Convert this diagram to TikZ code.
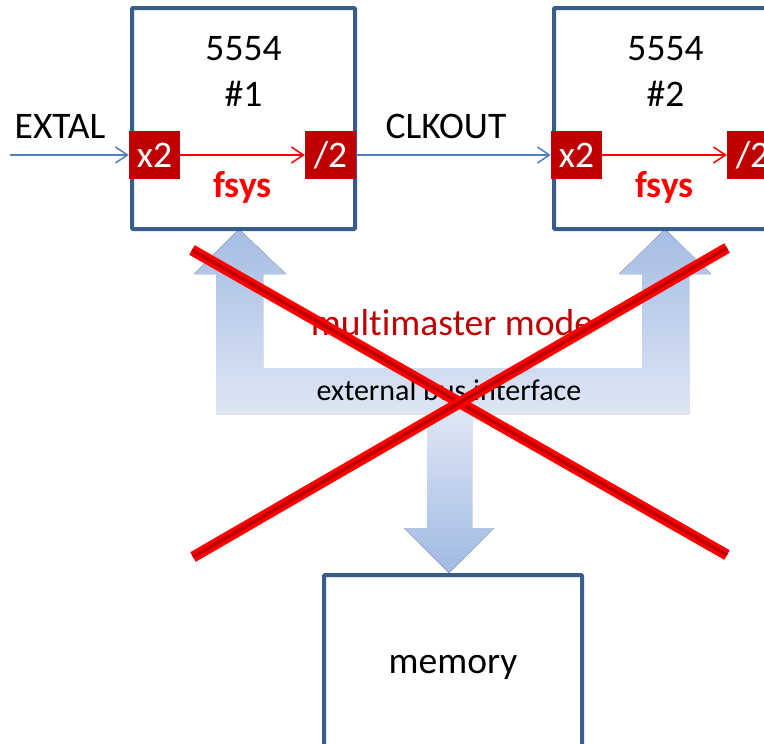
\documentclass[tikz,border=0pt]{standalone}
\usepackage{fontspec}
\setmainfont{Carlito}[Ligatures=NoCommon]
\usetikzlibrary{positioning, arrows.meta}

\definecolor{chipblue}{RGB}{56,93,138}
\definecolor{sigblue}{RGB}{79,129,189}
\definecolor{darkred}{RGB}{192,0,0}
\definecolor{bustop}{RGB}{165,188,228}
\definecolor{buslow}{RGB}{222,230,244}
\definecolor{busdown}{RGB}{160,185,228}

\newcommand{\chipfont}{\fontsize{37.5}{40}\selectfont}
\newcommand{\busfont}{\fontsize{30}{32}\selectfont}

\begin{document}
\begin{tikzpicture}[x=1pt, y=-1pt,
    chip/.style={rectangle,
        draw=chipblue, % Frame colour.
        fill=white,
        line width=4pt,
        rounded corners=1pt,
        minimum width=223pt,
        minimum height=221pt},
    pll/.style={rectangle,
        fill=darkred, % Box fill colour.
        text=white,
        inner sep=0pt,
        minimum width=51pt,
        minimum height=48pt,
        font=\chipfont},
    lbl/.style={inner sep=0pt, anchor=base, font=\chipfont},
    fsys/.style={midway, anchor=base, yshift=-42pt, inner sep=0pt,
        text=red, font=\chipfont\bfseries},
    sig/.style={draw=sigblue, line width=1.5pt,
        -{Straight Barb[length=12pt, width=16pt]}},
    clk/.style={draw=red, line width=1.5pt,
        -{Straight Barb[length=12pt, width=16pt]}},
    cross/.style={draw=red, double=darkred, double distance=3.5pt,
        line width=3.75pt}]

        \clip (0,0) rectangle (764,744);

        % Bus arrows.
        \fill[top color=bustop, bottom color=buslow]
            (239,229) -- (286,274) -- (263,274) -- (263,368) -- (642,368)
            -- (642,274) -- (619,274) -- (665,229) -- (711,274) -- (689,274)
            -- (689,414) -- (216,414) -- (216,274) -- (194,274) -- cycle;
        \fill[top color=buslow, bottom color=busdown]
            (427,414) -- (472,414) -- (472,528) -- (494,528) -- (449,573)
            -- (404,528) -- (427,528) -- cycle;

        % Nodes.
        \node[chip] (chipA) at (243.5,118.5) {};
        \node[chip, right=195pt of chipA] (chipB) {};
        \node[chip, minimum width=258pt] (mem) at (453,685.5) {};

        \foreach \c/\n in {chipA/1, chipB/2} {
            \node[lbl] (num\n) at ([yshift=-54pt]\c.north) {5554};
            \node[lbl] (id\n) at ([yshift=-100pt]\c.north) {\#\n};
            \node[pll] (mul\n) at ([xshift=24.5pt, yshift=-36.5pt]\c.west) {x2};
            \node[pll] (div\n) at ([xshift=-26.5pt, yshift=-36.5pt]\c.east) {/2};
            % Internal clock.
            \draw[clk] (mul\n) -- node[fsys] {fsys} (div\n);
        }

        \coordinate (clkin) at (10,155);
        \node[lbl] (extal) at (60,138) {EXTAL};
        \node[lbl] (clkout) at (446,138) {CLKOUT};
        \node[lbl, text=darkred] (mode) at (452,335) {multimaster mode};
        \node[lbl, font=\busfont] (ebi) at (449,400) {external bus interface};
        \node[lbl] (memlbl) at (453,673) {memory};

        % Clock lines.
        \foreach \i/\j in {clkin/mul1, div1/mul2}
        \draw[sig] (\i) -- (\j);

        % Crossed out.
        \coordinate (xa) at (192,250);
        \coordinate (xb) at (727,555);
        \coordinate (xc) at (193,557);
        \coordinate (xd) at (727,248);
        \draw[cross] (xa) -- (xb);
        \draw[cross] (xc) -- (xd);
    \end{tikzpicture}
\end{document}
